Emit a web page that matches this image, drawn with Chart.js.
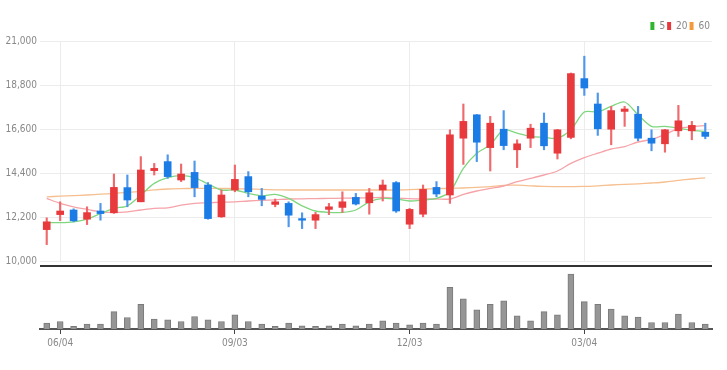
<!DOCTYPE html>
<html>
<head>
<meta charset="utf-8">
<script src="https://cdn.jsdelivr.net/npm/chart.js@4.4.1/dist/chart.umd.min.js"></script>
<style>
  body { margin: 0; background: #fff; }
  #wrap { position: relative; width: 727px; height: 370px; }
  #price { position: absolute; left: 0; top: 0; }
  #vol { position: absolute; left: 0; top: 262px; }
  #sep { position: absolute; left: 40px; top: 265px; width: 672px; height: 2px; background: #333; }
</style>
</head>
<body>
<div id="wrap">
  <canvas id="price" width="727" height="270"></canvas>
  <div id="sep"></div>
  <canvas id="vol" width="727" height="108"></canvas>
</div>
<script>
// weekly candles
var labels = ["05/28","06/04","06/11","06/18","06/25","07/02","07/09","07/16","07/23","07/30",
  "08/06","08/13","08/20","08/27","09/03","09/10","09/17","09/24","10/01","10/08",
  "10/15","10/22","10/29","11/05","11/12","11/19","11/26","12/03","12/10","12/17",
  "12/24","12/31","01/07","01/14","01/21","01/28","02/04","02/11","02/18","02/25",
  "03/04","03/11","03/18","03/25","04/01","04/08","04/15","04/22","04/29","05/06"];

var openP  = [11570,12320,12550,12090,12500,12410,13670,12960,14520,14970,
  14050,14430,13800,12210,13550,14220,13250,12830,12880,12120,
  12040,12580,12680,13180,12910,13550,13920,11840,12340,13680,
  13300,16140,17310,15670,16590,15560,16140,16890,15390,16180,
  19120,17850,16590,17480,17340,16140,15860,16510,16510,16440];
var highP  = [12160,12960,12610,12710,12880,14350,14300,15220,14880,15310,
  14850,15000,13920,13550,14800,14470,13630,13100,12960,12410,
  12430,12880,13460,13380,13630,14050,13970,12630,13800,13970,
  16560,17850,17330,17230,17520,16060,16840,17400,16580,19400,
  20240,18400,17730,17730,17730,16560,16580,17780,16980,16890];
var lowP   = [10820,12020,11960,11820,12040,12380,12710,12960,14300,14130,
  13970,13210,12090,12180,13460,13210,12760,12710,11710,11620,
  11620,12320,12430,12800,12340,13000,12430,11620,12210,13210,
  12880,14830,14970,14500,15560,14670,15670,15560,15100,16110,
  18280,16280,15810,16730,16010,15510,15440,16230,16060,16110];
var closeP = [11960,12500,12010,12420,12370,13680,13050,14550,14630,14220,
  14350,13670,12120,13300,14080,13460,13080,12960,12290,12040,
  12320,12710,12960,12850,13410,13800,12500,12580,13580,13350,
  16310,16980,15940,16890,15770,15860,16640,15760,16560,19370,
  18650,16610,17520,17600,16140,15890,16560,17010,16780,16230];

var ma5  = [11920,11920,11960,12090,12370,12630,12760,13300,13880,14170,
  14270,14170,13850,13550,13550,13380,13260,13330,13130,12760,
  12500,12430,12430,12550,12960,13130,13100,13000,13050,13130,
  13460,14630,15390,15810,16560,16390,16230,16180,16140,16560,
  17450,17450,17730,17950,17310,16730,16730,16640,16530,16480];
var ma20 = [13130,12880,12710,12580,12460,12430,12460,12550,12630,12660,
  12790,12880,12910,12940,12960,13000,13030,13060,13100,13110,
  13120,13130,13140,13150,13160,13180,13150,13120,13100,13100,
  13100,13330,13500,13630,13750,13970,14130,14300,14500,14880,
  15170,15390,15600,15720,15950,16080,16330,16620,16720,16770];
var ma60 = [13210,13240,13270,13300,13340,13380,13430,13480,13560,13600,
  13620,13630,13630,13630,13620,13600,13580,13560,13550,13550,
  13550,13550,13550,13550,13550,13550,13550,13570,13600,13620,
  13630,13650,13680,13720,13780,13790,13760,13730,13720,13720,
  13730,13760,13800,13830,13860,13900,13950,14030,14100,14160];

// volume, thousands of shares
var volume = [60,76,26,50,50,176,116,250,100,93,
  76,126,93,76,143,76,50,26,60,33,
  26,33,50,33,50,83,60,43,60,50,
  420,303,193,250,283,133,83,176,143,553,
  276,250,200,133,120,66,66,150,66,50];

var tickIdx = [1, 14, 27, 40];

var UP = '#e8393c', DOWN = '#1c7ce6';
var UP_WICK = '#ee6a6d', DOWN_WICK = '#4f97ec';
var FONT = "'DejaVu Sans Condensed', 'Liberation Sans Narrow', Roboto, sans-serif";

var isUp = closeP.map(function(c, i) { return c >= openP[i]; });

var priceChart = new Chart(document.getElementById('price'), {
  type: 'bar',
  data: {
    labels: labels,
    datasets: [
      {
        label: 'wick',
        data: lowP.map(function(l, i) { return [l, highP[i]]; }),
        backgroundColor: isUp.map(function(u) { return u ? UP_WICK : DOWN_WICK; }),
        barThickness: 1.5,
        grouped: false,
        order: 1
      },
      {
        label: 'body',
        data: openP.map(function(o, i) { return [o, closeP[i]]; }),
        backgroundColor: isUp.map(function(u) { return u ? UP : DOWN; }),
        barThickness: 7,
        grouped: false,
        order: 0
      },
      { type: 'line', label: '5', data: ma5, borderColor: '#7fd67f', backgroundColor: '#2fb52f',
        borderWidth: 1.3, pointRadius: 0, tension: 0.3, order: 2 },
      { type: 'line', label: '20', data: ma20, borderColor: '#f5a3a8', backgroundColor: '#e8393c',
        borderWidth: 1.3, pointRadius: 0, tension: 0.3, order: 3 },
      { type: 'line', label: '60', data: ma60, borderColor: '#f6bf8f', backgroundColor: '#f59a3c',
        borderWidth: 1.3, pointRadius: 0, tension: 0.3, order: 4 }
    ]
  },
  options: {
    responsive: false,
    animation: false,
    layout: { padding: { left: 0, right: 15, top: 19, bottom: 6 } },
    plugins: {
      tooltip: { enabled: false },
      legend: {
        position: 'top',
        align: 'end',
        labels: {
          boxWidth: 4,
          boxHeight: 8,
          padding: 2,
          color: '#888',
          font: { family: FONT, size: 10 },
          filter: function(item) { return item.text !== 'wick' && item.text !== 'body'; },
          generateLabels: function(chart) {
            return chart.data.datasets.map(function(ds, i) {
              return { text: ds.label, fillStyle: ds.backgroundColor, strokeStyle: ds.backgroundColor,
                lineWidth: 0, datasetIndex: i, fontColor: '#888' };
            });
          }
        }
      }
    },
    scales: {
      x: {
        ticks: { display: false, autoSkip: false },
        grid: {
          offset: false,
          drawTicks: false,
          color: function(ctx) { return tickIdx.indexOf(ctx.index) >= 0 ? '#ececec' : 'rgba(0,0,0,0)'; }
        },
        border: { display: false }
      },
      y: {
        min: 10000,
        max: 21000,
        ticks: {
          stepSize: 2200,
          padding: 3,
          color: '#888',
          font: { family: FONT, size: 10 },
          callback: function(v) { return v.toLocaleString('en-US'); }
        },
        grid: { color: '#ececec', drawTicks: false },
        border: { display: false },
        afterFit: function(s) { s.width = 40; }
      }
    }
  }
});

var volChart = new Chart(document.getElementById('vol'), {
  type: 'bar',
  data: {
    labels: labels,
    datasets: [{
      label: 'volume',
      data: volume,
      backgroundColor: '#969696',
      borderColor: '#7a7a7a',
      borderWidth: 1,
      barThickness: 6
    }]
  },
  options: {
    responsive: false,
    animation: false,
    layout: { padding: { left: 40, right: 15, top: 8, bottom: 18 } },
    plugins: { legend: { display: false }, tooltip: { enabled: false } },
    scales: {
      x: {
        ticks: {
          autoSkip: false,
          maxRotation: 0,
          padding: 3,
          color: '#888',
          font: { family: FONT, size: 10 },
          callback: function(v, i) { return tickIdx.indexOf(i) >= 0 ? labels[i] : ''; }
        },
        grid: {
          offset: false,
          drawOnChartArea: false,
          tickLength: 5,
          color: function(ctx) { return tickIdx.indexOf(ctx.index) >= 0 ? '#444' : 'rgba(0,0,0,0)'; }
        },
        border: { color: '#555', width: 2 }
      },
      y: { display: false, min: 0, max: 595 }
    }
  }
});
</script>
</body>
</html>
